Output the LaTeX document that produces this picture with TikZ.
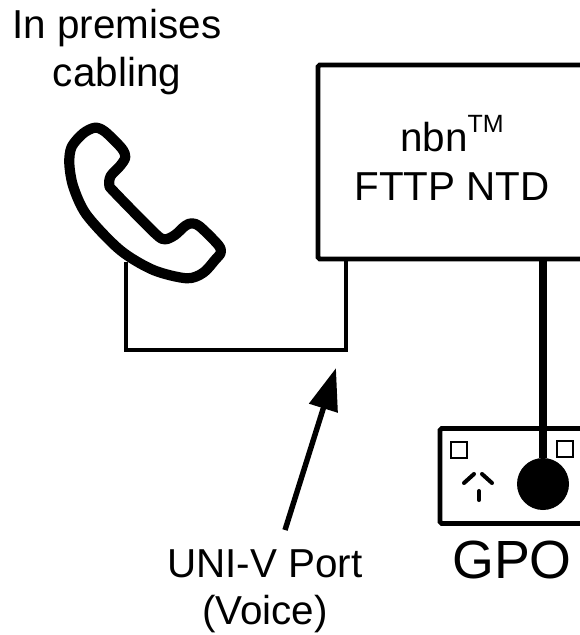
\documentclass[tikz,border=0pt]{standalone}
\usepackage{amsmath, amsfonts, amssymb}
\usepackage{fontspec}
\setmainfont{Liberation Sans}
\usetikzlibrary{arrows.meta}
\tikzset{
  label text/.style = {font=\fontsize{23}{27}\selectfont, inner sep=0pt, anchor=base},
  plate/.style = {draw, line width=2.7pt, rounded corners=1pt, inner sep=0pt},
  wire/.style = {line width=2.7pt},
  pin/.style = {line width=2.3pt, line cap=round},
  hole/.style = {draw, line width=1pt, minimum size=9pt, inner sep=0pt}
}
\begin{document}
\begin{tikzpicture}[x=0.02cm, y=-0.02cm]
\useasboundingbox (0,0) rectangle (579,635);
\path (117,39) node[label text] (cablingA) {In premises};
\path (117,87) node[label text] (cablingB) {cabling};
\path (462,162) node[plate, minimum width=288*0.02cm, minimum height=194*0.02cm] (ntd) {};
\path (452,151) node[label text] (ntdA) {nbn\raisebox{10.8pt}{\fontsize{14.2}{16}\selectfont TM}};
\path (452,200) node[label text] (ntdB) {FTTP NTD};
\path (520,476) node[plate, minimum width=160*0.02cm, minimum height=95*0.02cm] (gpo) {};
\path (459,450) node[hole] (holeA) {};
\path (565,449) node[hole] (holeB) {};
\path (543,484) node[circle, fill, minimum size=52*0.02cm, inner sep=0pt] (plug) {};
\path (512,578) node[label text, font=\fontsize{30.6}{34}\selectfont] (gpoText) {GPO};
\path (265,577) node[label text] (uniA) {UNI-V Port};
\path (265,624) node[label text] (uniB) {(Voice)};
\coordinate (wireA) at (126,262);
\coordinate (wireB) at (126,350);
\coordinate (wireC) at (346,350);
\coordinate (wireD) at (346,259);
\coordinate (cordTop) at (543,259);
\coordinate (arrowEnd) at (336,368);
\coordinate (arrowStart) at (285,530);
% handset
\draw[line width=5.8pt, line join=round] plot[smooth cycle, tension=0.5] coordinates {
  (69.3,163.3) (71.7,146.7) (83.3,133.3) (95,127.7) (105,131.7) (121.7,148.3) (125.3,157.3)
  (120,166) (110.7,176) (109.3,185) (114,191.7) (155,233.3) (165,239.3) (175,235) (185,226)
  (191.7,223.3) (200,226.7) (218.3,245) (220.7,252.7) (215,260) (203.3,272.7) (186.7,278.3)
  (153.3,270) (120,250) (86.7,215) (73.3,186.7)};
\draw[wire] (wireA) -- (wireB) -- (wireC) -- (wireD);
\draw[line width=4.2pt] (cordTop) -- (plug);
\draw[line width=3.1pt, -{Stealth[length=24pt, width=16.4pt, inset=0pt]}] (arrowStart) -- (arrowEnd);
% socket pins
\draw[pin] (464,483) -- (474,474);
\draw[pin] (482,474) -- (492,483);
\draw[pin] (479,491) -- (479,500);
\end{tikzpicture}
\end{document}
